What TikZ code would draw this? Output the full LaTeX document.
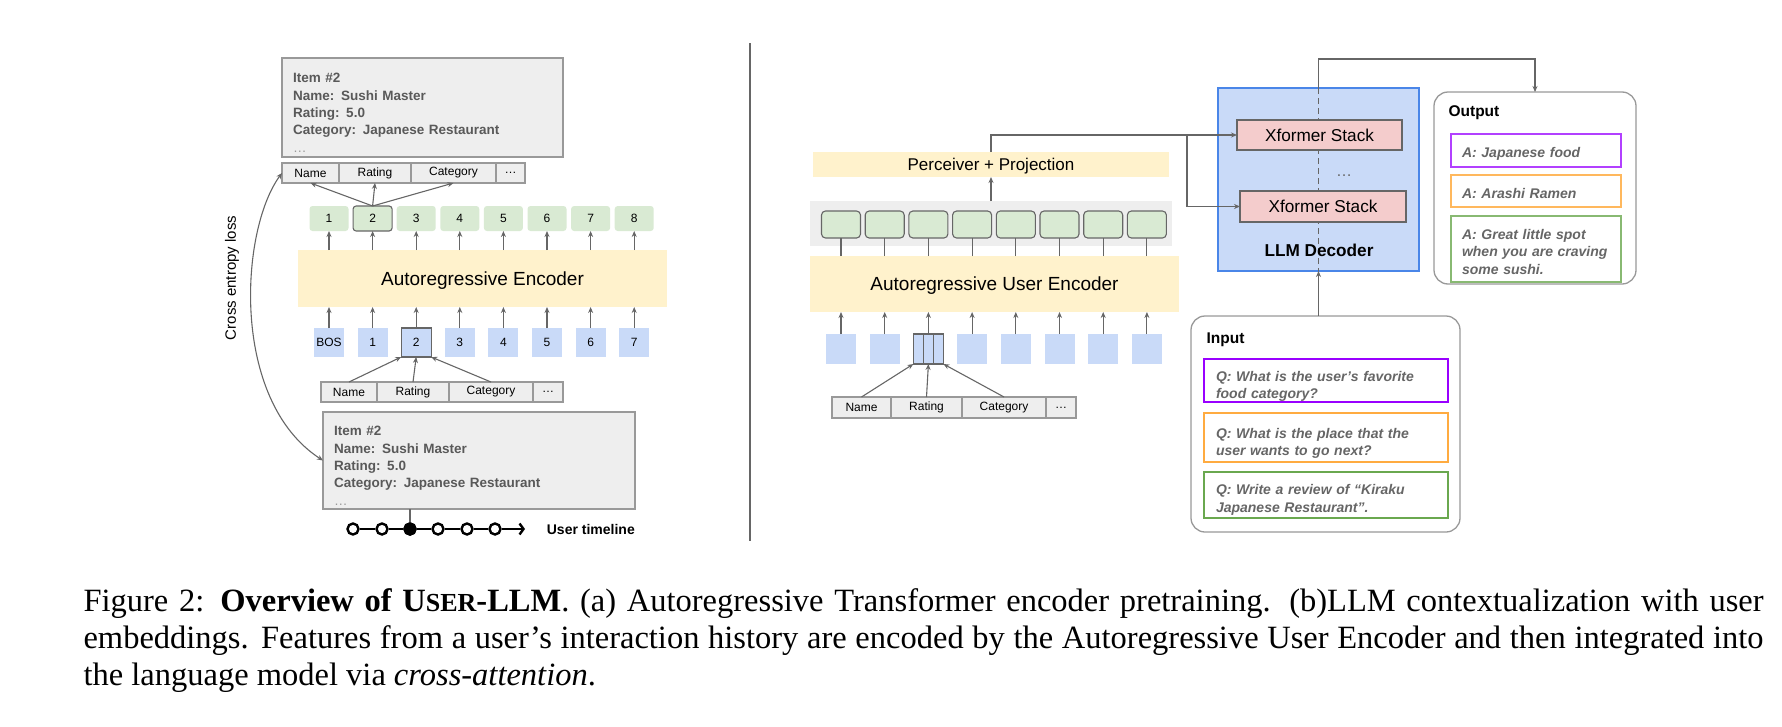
\documentclass[tikz,border=0pt]{standalone}
\usepackage{fontspec}
\setmainfont{Liberation Sans}
\newfontfamily\capfont{Liberation Serif}
\usetikzlibrary{arrows.meta,positioning}
\definecolor{lnGray}{HTML}{666666}
\definecolor{boxGray}{HTML}{EEEEEE}
\definecolor{edgeGray}{HTML}{999999}
\definecolor{txtGray}{HTML}{595959}
\definecolor{tokGreen}{HTML}{D9EAD3}
\definecolor{tokBlue}{HTML}{C9DAF8}
\definecolor{encYellow}{HTML}{FFF2CC}
\definecolor{stackPink}{HTML}{F4CCCC}
\definecolor{decEdge}{HTML}{4A86E8}
\definecolor{qPurple}{HTML}{9900FF}
\definecolor{qOrange}{HTML}{FFAB40}
\definecolor{qGreen}{HTML}{6AA84F}
\newcommand{\fsz}[2]{\fontsize{#1}{#2}\selectfont}
\newcommand{\dotsline}{{\mdseries\color{edgeGray}\dots}}
\newcommand{\lift}[1]{\rule{0pt}{#1}}
\begin{document}
\begin{tikzpicture}[x=1pt, y=-1pt, >={Stealth[length=6pt,width=5pt]}, line width=1.1pt,
  arr/.style={->, draw=lnGray},
  itembox/.style={draw=edgeGray, fill=boxGray, line width=1.3pt, align=left, inner xsep=11pt, inner ysep=0pt, outer sep=0pt, font=\bfseries\fsz{13.5}{17.3}, text=txtGray},
  field/.style={draw=edgeGray, fill=boxGray, minimum height=20pt, inner sep=0pt, outer sep=0pt, font=\fsz{12}{14}},
  gtok/.style={fill=tokGreen, rounded corners=3pt, minimum width=39pt, minimum height=25pt, inner sep=0pt, outer sep=0pt, font=\fsz{12}{14}},
  btok/.style={fill=tokBlue, minimum width=30pt, minimum height=29pt, inner sep=0pt, outer sep=0pt, font=\fsz{12}{14}},
  rtok/.style={fill=tokGreen, draw=lnGray, rounded corners=4pt, minimum width=39pt, minimum height=27pt, inner sep=0pt, outer sep=0pt},
  encoder/.style={fill=encYellow, inner sep=0pt, outer sep=0pt, text height=13.6pt, text depth=0pt, font=\fsz{19}{23}},
  stackbox/.style={fill=stackPink, draw=lnGray, inner sep=0pt, outer sep=0pt, font=\fsz{17.2}{20}},
  panel/.style={draw=edgeGray, fill=white, rounded corners=14pt, line width=1.3pt, inner sep=0pt, outer sep=0pt},
  qabox/.style={draw=#1, line width=1.5pt, align=left, inner ysep=0pt, outer sep=0pt, font=\bfseries\itshape\fsz{14}{17.5}, text=lnGray},
  tldot/.style={circle, draw=black, fill=white, line width=2.4pt, minimum size=11pt, inner sep=0pt}]
\useasboundingbox (0,0) rectangle (1782,726);

\node (itemtop) at (422.5,107.5)[itembox, text width=259pt, minimum height=99pt]{\lift{20pt}Item \#2\\Name: Sushi Master\\Rating: 5.0\\Category: Japanese Restaurant\\\dotsline};
\node (ftname) at (282,173)[field, anchor=west, minimum width=57pt]{Name};
\node (ftrating)[field, right=0pt of ftname, minimum width=72pt]{Rating};
\node (ftcat)[field, right=0pt of ftrating, minimum width=85pt]{Category};
\node (ftdots)[field, right=0pt of ftcat, minimum width=29pt]{\dots};

\foreach \i in {1,...,8}
    \node (gt\i) at ({329+43.6*(\i-1)},218.5)[gtok]{\i};
\draw[lnGray, rounded corners=3pt] (gt2.south west) rectangle (gt2.north east);
\node (encL) at (482.5,278.5)[encoder, minimum width=369pt, minimum height=57pt]{Autoregressive Encoder};
\foreach \i/\t in {0/BOS,1/1,2/2,3/3,4/4,5/5,6/6,7/7}
    \node (bt\i) at ({329+43.6*\i},342.5)[btok]{\t};
\draw[lnGray] (bt2.south west) rectangle (bt2.north east);
\foreach \i in {0,...,7}
    \draw[arr] (bt\i.north) -- (bt\i.north |- encL.south);
\foreach \i in {1,...,8}
    \draw[arr] (gt\i.south |- encL.north) -- (gt\i.south);
\foreach \f in {ftname,ftrating,ftcat}
    \draw[arr] (gt2.north) -- (\f.south);

\node (fbname) at (321,392)[field, anchor=west, minimum width=56pt]{Name};
\node (fbrating)[field, right=0pt of fbname, minimum width=72pt]{Rating};
\node (fbcat)[field, right=0pt of fbrating, minimum width=84pt]{Category};
\node (fbdots)[field, right=0pt of fbcat, minimum width=30pt]{\dots};
\foreach \f/\a in {fbname/south west,fbrating/south,fbcat/south east}
    \draw[arr] (\f.north) -- (bt2.\a);

\node (itembot) at (479,460.5)[itembox, text width=290pt, minimum height=97pt]{\lift{20pt}Item \#2\\Name: Sushi Master\\Rating: 5.0\\Category: Japanese Restaurant\\\dotsline};
\draw[<->, lnGray] (ftname.west) .. controls (240,230) and (230,400) .. (itembot.west);
\node (celoss) at (232,278)[rotate=90, font=\fsz{15}{18}]{Cross entropy loss};

\foreach \x [count=\k] in {353,382,410,438,467,495}
    \node (tl\k) at (\x,529)[tldot]{};
\node (tl3) at (410,529)[tldot, fill=black]{};
\foreach \a/\b in {1/2,2/3,3/4,4/5,5/6}
    \draw[line width=2.4pt] (tl\a) -- (tl\b);
\coordinate (tlend) at (525,529);
\draw[line width=2.4pt, -{Straight Barb[length=4pt,width=11pt]}] (tl6) -- (tlend);
\node (tllabel) at (543,529)[anchor=west, font=\bfseries\fsz{14}{16}]{User timeline};
\draw[lnGray] (tl3.north) -- (tl3.north |- itembot.south);

\coordinate (divtop) at (750,43);
\coordinate (divbot) at (750,541);
\draw[lnGray, line width=1.6pt] (divtop) -- (divbot);

\node (band) at (991,223.5)[fill=boxGray, minimum width=362pt, minimum height=45pt, inner sep=0pt, outer sep=0pt]{};
\foreach \i in {1,...,8}
    \node (rt\i) at ({841+43.7*(\i-1)},224.5)[rtok]{};
\node (encR) at (994.5,284)[encoder, minimum width=369pt, minimum height=56pt]{Autoregressive User Encoder};
\foreach \i in {1,...,8}
    \node (rb\i) at ({841+43.7*(\i-1)},349)[btok, minimum height=30pt]{};
\draw[lnGray] (rb3.south west) rectangle (rb3.north east);
\draw[lnGray] ([xshift=10pt]rb3.north west) -- ([xshift=10pt]rb3.south west);
\draw[lnGray] ([xshift=-10pt]rb3.north east) -- ([xshift=-10pt]rb3.south east);
\foreach \i in {1,...,8}
{
    \draw[lnGray] (rt\i.south |- encR.north) -- (rt\i.south);
    \draw[arr] (rb\i.north) -- (rb\i.north |- encR.south);
}
\node (frname) at (832,407.5)[field, anchor=west, minimum width=59pt, minimum height=21pt]{Name};
\node (frrating)[field, right=0pt of frname, minimum width=71pt, minimum height=21pt]{Rating};
\node (frcat)[field, right=0pt of frrating, minimum width=84pt, minimum height=21pt]{Category};
\node (frdots)[field, right=0pt of frcat, minimum width=30pt, minimum height=21pt]{\dots};
\foreach \f/\a in {frname/south west,frrating/south,frcat/south east}
    \draw[arr] (\f.north) -- (rb3.\a);

\node (perc) at (991,164.5)[encoder, minimum width=356pt, minimum height=25pt, text height=12.2pt, font=\fsz{17}{20}]{Perceiver + Projection};
\draw[arr] (band.north) -- (perc.south);

\node (dec) at (1318.5,179.5)[fill=tokBlue, draw=decEdge, line width=1.3pt, minimum width=201pt, minimum height=183pt, inner sep=0pt, outer sep=0pt]{};
\draw[lnGray, dash pattern=on 6pt off 4pt] (dec.north) -- (dec.south);
\node (xf1) at (1319.5,135)[stackbox, minimum width=165pt, minimum height=30pt]{Xformer Stack};
\node (xf2) at (1323,206.5)[stackbox, minimum width=166pt, minimum height=31pt]{Xformer Stack};
\node (xfdots) at (1344,176)[anchor=base, text=lnGray, font=\fsz{16}{18}]{\dots};
\node (declabel) at (1319,250)[font=\bfseries\fsz{17.2}{20}]{LLM Decoder};
\coordinate (split) at (xf1.west -| 1187,0);
\draw[arr] (perc.north) |- (xf1.west);
\draw[arr] (split) |- (xf2.west);

\node (outbox) at (1535,188)[panel, minimum width=202pt, minimum height=192pt]{};
\node (outlabel) at (1448,113)[anchor=west, inner sep=0pt, font=\bfseries\fsz{15.5}{18}]{Output};
\node (a1) at (1536,150.5)[qabox=qPurple!75, text width=148pt, inner xsep=11pt, minimum height=33pt]{\lift{16pt}A: Japanese food};
\node (a2) at (1536,191)[qabox=qOrange!85, text width=148pt, inner xsep=11pt, minimum height=32pt]{\lift{16pt}A: Arashi Ramen};
\node (a3) at (1536,249)[qabox=qGreen!80, text width=148pt, inner xsep=11pt, minimum height=66pt]{\lift{16pt}A: Great little spot\\when you are craving\\some sushi.};
\coordinate (topturn) at (dec.north |- 0,59);
\draw[arr] (dec.north) -- (topturn) -| (outbox.north);

\node (inbox) at (1325.5,424)[panel, minimum width=269pt, minimum height=216pt]{};
\node (inlabel) at (1206,340)[anchor=west, inner sep=0pt, font=\bfseries\fsz{15.5}{18}]{Input};
\node (q1) at (1326,380.5)[qabox=qPurple, text width=220pt, inner xsep=12pt, minimum height=43pt]{\lift{22pt}Q: What is the user’s favorite\\food category?};
\node (q2) at (1326,437.5)[qabox=qOrange, text width=220pt, inner xsep=12pt, minimum height=49pt]{\lift{22pt}Q: What is the place that the\\user wants to go next?};
\node (q3) at (1326,495)[qabox=qGreen, text width=220pt, inner xsep=12pt, minimum height=46pt]{\lift{20pt}Q: Write a review of “Kiraku\\Japanese Restaurant”.};
\draw[arr] (dec.south |- inbox.north) -- (dec.south);

\node (caption) at (83,588)[anchor=north west, inner sep=0pt, align=left, font=\capfont\fsz{32.5}{37}]{\makebox[1680pt][s]{Figure 2: \textbf{Overview of U{\fsz{26}{37}SER}-LLM}. (a) Autoregressive Transformer encoder pretraining. (b)LLM contextualization with user}\\\makebox[1680pt][s]{embeddings. Features from a user’s interaction history are encoded by the Autoregressive User Encoder and then integrated into}\\the language model via \textit{cross-attention}.};
\end{tikzpicture}
\end{document}
